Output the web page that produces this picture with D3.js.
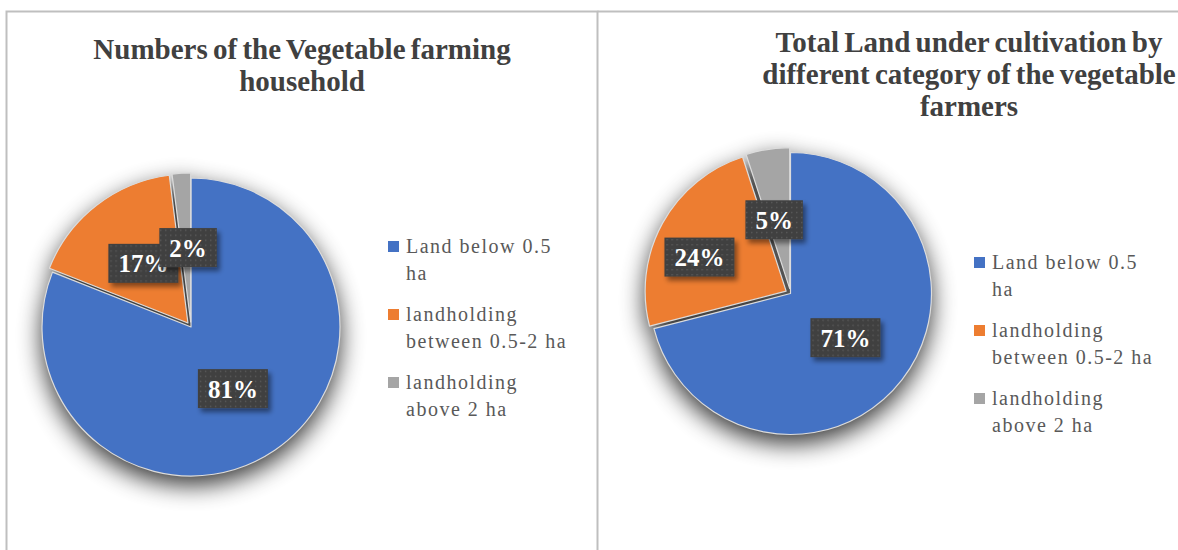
<!DOCTYPE html>
<html>
<head>
<meta charset="utf-8">
<script src="https://cdn.jsdelivr.net/npm/d3@7/dist/d3.min.js"></script>
<style>
  html, body { margin: 0; padding: 0; background: #fff; }
  svg { display: block; }
</style>
</head>
<body>
<svg id="chart" width="1178" height="550"></svg>
<script>
// ---- data ----
const categories = ["Land below 0.5 ha", "landholding between 0.5-2 ha", "landholding above 2 ha"];
const legendLines = [["Land below 0.5", "ha"], ["landholding", "between 0.5-2 ha"], ["landholding", "above 2 ha"]];
const householdShare = [81, 17, 2];   // % of vegetable farming households
const landShare = [71, 24, 5];        // % of total land under cultivation
const householdTitle = ["Numbers of the Vegetable farming", "household"];
const landTitle = ["Total Land under cultivation by", "different category of the vegetable", "farmers"];

// ---- styling / layout ----
const colors = ["#4472C4", "#ED7D31", "#A5A5A5"];
const serif = "'Liberation Serif', 'Times New Roman', serif";
const svg = d3.select("#chart");
const defs = svg.append("defs");

// soft shadow behind each pie
const pieShadow = defs.append("filter").attr("id", "pieShadow")
  .attr("x", "-40%").attr("y", "-40%").attr("width", "180%").attr("height", "180%");
pieShadow.append("feGaussianBlur").attr("stdDeviation", 12);

// shadow for the data-label boxes
const boxShadow = defs.append("filter").attr("id", "boxShadow")
  .attr("x", "-30%").attr("y", "-30%").attr("width", "160%").attr("height", "170%");
boxShadow.append("feDropShadow").attr("dx", 3).attr("dy", 4).attr("stdDeviation", 2.5)
  .attr("flood-color", "#000").attr("flood-opacity", 0.45);

// dotted fill for label boxes
const dots = defs.append("pattern").attr("id", "dots")
  .attr("patternUnits", "userSpaceOnUse").attr("width", 5).attr("height", 5);
dots.append("rect").attr("width", 5).attr("height", 5).attr("fill", "#404040");
dots.append("rect").attr("x", 2).attr("y", 2).attr("width", 1.3).attr("height", 1.3).attr("fill", "#5e5e5e");

// chart frames
svg.append("path").attr("d", "M6.5,550 V11.5 H597.5 V550")
  .attr("fill", "none").attr("stroke", "#bfbfbf").attr("stroke-width", 2);
svg.append("path").attr("d", "M597.5,11.5 H1178")
  .attr("fill", "none").attr("stroke", "#bfbfbf").attr("stroke-width", 2);

const charts = [
  { values: householdShare, title: householdTitle, titleX: 302, titleY: 59, titleSize: 29,
    cx: 191, cy: 327, r: 149, explode: [0, 5, 5],
    labelFrac: [0.5, 0.5, 0.5], labelShift: [0, 1, 1.5],
    legendX: 388, legendY: 253 },
  { values: landShare, title: landTitle, titleX: 969, titleY: 52, titleSize: 29,
    cx: 790.5, cy: 293.5, r: 141, explode: [0, 5, 5],
    labelFrac: [0.5, 0.66, 0.5], labelShift: [1, -7, -3.5],
    legendX: 974, legendY: 269 }
];

const pie = d3.pie().sort(null).value(d => d);

charts.forEach(cfg => {
  const g = svg.append("g");

  // title
  const title = g.append("text")
    .attr("x", cfg.titleX).attr("y", cfg.titleY)
    .attr("text-anchor", "middle")
    .attr("font-family", serif)
    .attr("font-weight", "bold").attr("font-size", cfg.titleSize)
    .attr("fill", "#404040")
    .attr("word-spacing", -2);
  cfg.title.forEach((line, i) => {
    title.append("tspan").attr("x", cfg.titleX).attr("dy", i === 0 ? 0 : 32).text(line);
  });

  const arcs = pie(cfg.values);
  const arc = d3.arc().innerRadius(0).outerRadius(cfg.r);
  const mid = d => (d.startAngle + d.endAngle) / 2;
  const offset = (d, i) => [Math.sin(mid(d)) * cfg.explode[i], -Math.cos(mid(d)) * cfg.explode[i]];

  const pieG = g.append("g").attr("transform", `translate(${cfg.cx},${cfg.cy})`);

  // shadow layer
  pieG.append("g").attr("filter", "url(#pieShadow)").attr("opacity", 0.8)
    .attr("transform", "translate(0,9)")
    .selectAll("path").data(arcs).join("path")
    .attr("transform", (d, i) => `translate(${offset(d, i)})`)
    .attr("d", arc).attr("fill", "#000");

  // slices
  pieG.selectAll("path.slice").data(arcs).join("path")
    .attr("class", "slice")
    .attr("transform", (d, i) => `translate(${offset(d, i)})`)
    .attr("d", arc)
    .attr("fill", (d, i) => colors[i])
    .attr("stroke", "#dcdcdc").attr("stroke-width", 1.2)
    .attr("stroke-linejoin", "round");

  // data labels
  arcs.forEach((d, i) => {
    const a = mid(d) + cfg.labelShift[i] * Math.PI / 180;
    const dist = cfg.explode[i] + cfg.labelFrac[i] * cfg.r;
    const lx = Math.sin(a) * dist, ly = -Math.cos(a) * dist;
    const lg = pieG.append("g").attr("transform", `translate(${lx},${ly})`);
    const txt = lg.append("text")
      .attr("text-anchor", "middle").attr("y", 9)
      .attr("font-family", serif)
      .attr("font-weight", "bold").attr("font-size", 25)
      .attr("fill", "#fff")
      .text(d3.format("d")(d.data) + "%");
    const w = txt.node().getComputedTextLength() + 20, h = 39;
    lg.insert("rect", "text")
      .attr("x", -w / 2).attr("y", -h / 2).attr("width", w).attr("height", h)
      .attr("fill", "url(#dots)").attr("filter", "url(#boxShadow)");
  });

  // legend
  const leg = g.append("g");
  let y = cfg.legendY;
  legendLines.forEach((lines, i) => {
    leg.append("rect")
      .attr("x", cfg.legendX).attr("y", y - 12).attr("width", 11).attr("height", 11)
      .attr("fill", colors[i]);
    const t = leg.append("text")
      .attr("font-family", serif)
      .attr("font-size", 20).attr("letter-spacing", 1.5)
      .attr("fill", "#595959");
    lines.forEach((line, j) => {
      t.append("tspan").attr("x", cfg.legendX + 18).attr("y", y + j * 27).text(line);
    });
    y += 68;
  });
});
</script>
</body>
</html>
